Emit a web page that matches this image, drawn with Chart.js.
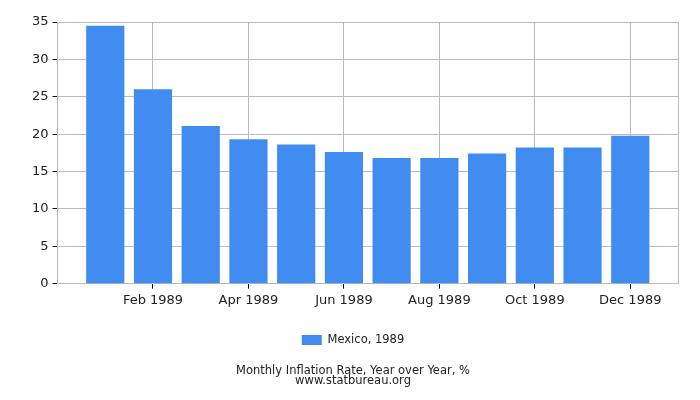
<!DOCTYPE html>
<html lang="en">
<head>
  <meta charset="UTF-8">
  <title>Mexico Inflation 1989</title>
  <script src="https://cdn.jsdelivr.net/npm/chart.js"></script>
  <style>
    html, body { margin: 0; padding: 0; background: #fff; }
    .chart-container { position: relative; width: 700px; height: 400px; }
  </style>
</head>
<body>
  <div class="chart-container">
    <canvas id="inflationChart"></canvas>
  </div>
  <script>
    // Data (empty slots pad the axis by one month each side)
    const months = ["", "Jan 1989", "Feb 1989", "Mar 1989", "Apr 1989", "May 1989", "Jun 1989",
                    "Jul 1989", "Aug 1989", "Sep 1989", "Oct 1989", "Nov 1989", "Dec 1989", ""];
    const inflation = [null, 34.5, 26.0, 21.1, 19.3, 18.6, 17.6, 16.8, 16.8, 17.4, 18.2, 18.2, 19.8, null];
    const shownTicks = ["Feb 1989", "Apr 1989", "Jun 1989", "Aug 1989", "Oct 1989", "Dec 1989"];
    const seriesLabel = "Mexico, 1989";
    const captionLines = ["Monthly Inflation Rate, Year over Year, %", "www.statbureau.org"];

    const gridColor = "#bbbbbb";
    const textColor = "#222222";
    Chart.defaults.font.family = "'DejaVu Sans', sans-serif";
    Chart.defaults.color = textColor;

    const isShown = (i) => shownTicks.includes(months[i]);

    function generateChart() {
      const ctx = document.getElementById("inflationChart").getContext("2d");
      new Chart(ctx, {
        type: "bar",
        data: {
          labels: months,
          datasets: [{
            label: seriesLabel,
            data: inflation,
            backgroundColor: "#418cf0",
            borderWidth: 0,
            barPercentage: 0.8,
            categoryPercentage: 1.0
          }]
        },
        options: {
          responsive: true,
          maintainAspectRatio: false,
          animation: false,
          layout: { padding: { top: 22, right: 22, left: 28, bottom: 12 } },
          plugins: {
            legend: {
              position: "bottom",
              labels: { boxWidth: 20, boxHeight: 10, font: { size: 11.5 }, padding: 22 }
            },
            title: {
              display: true,
              position: "bottom",
              text: captionLines,
              font: { size: 11.5, weight: "normal", lineHeight: 0.88 },
              padding: { top: 10, bottom: 2 }
            },
            tooltip: { enabled: false }
          },
          scales: {
            x: {
              offset: false,
              ticks: {
                autoSkip: false,
                maxRotation: 0,
                font: { size: 13 },
                padding: 4,
                callback: function (value, index) {
                  return isShown(index) ? months[index] : "";
                }
              },
              grid: {
                offset: false,
                tickLength: 5,
                color: (c) => (isShown(c.index) ? gridColor : "rgba(0,0,0,0)"),
                tickColor: (c) => (isShown(c.index) ? "#000" : "rgba(0,0,0,0)")
              },
              border: { color: gridColor }
            },
            y: {
              min: 0,
              max: 35,
              ticks: { stepSize: 5, font: { size: 13 }, padding: 4 },
              grid: { color: gridColor, tickLength: 5, tickColor: "#000" },
              border: { color: gridColor }
            }
          }
        },
        plugins: [{
          id: "rightBorder",
          afterDraw(chart) {
            const a = chart.chartArea;
            const c = chart.ctx;
            c.save();
            c.strokeStyle = gridColor;
            c.lineWidth = 1;
            c.beginPath();
            c.moveTo(a.right + 0.5, a.top);
            c.lineTo(a.right + 0.5, a.bottom);
            c.stroke();
            c.restore();
          }
        }]
      });
    }

    window.onload = generateChart;
  </script>
</body>
</html>
